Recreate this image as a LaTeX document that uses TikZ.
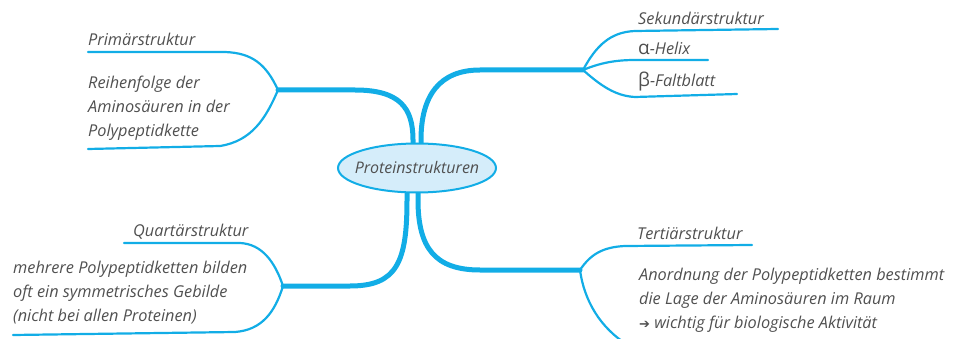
\documentclass[tikz,border=0pt]{standalone}
\usepackage{fontspec}
\setmainfont{Open Sans}
\newfontfamily\arrowfont{DejaVu Sans}
\usetikzlibrary{shapes.geometric}
\definecolor{mmblue}{HTML}{12ADE6}
\definecolor{mmfill}{HTML}{D5EDFA}
\definecolor{mmtext}{HTML}{505050}
\tikzset{
  thickbr/.style={draw=mmblue, line width=5pt, line cap=round},
  thinbr/.style={draw=mmblue, line width=2.2pt, line cap=round},
  lbl/.style={font=\itshape\fontsize{16.3}{24}\selectfont, text=mmtext, inner sep=0pt, align=left},
  central/.style={ellipse, draw=mmblue, line width=2pt, fill=mmfill, minimum width=158pt, minimum height=49pt, inner sep=0pt, font=\itshape\fontsize{16}{18}\selectfont, text=mmtext}
}
\newcommand{\grk}[1]{{\upshape\fontsize{19}{24}\selectfont #1}}
\begin{document}
\begin{tikzpicture}[x=1pt,y=-1pt]
\useasboundingbox (0,0) rectangle (963,339);
\begin{scope}
\clip (0,0) rectangle (963,339);
% junction coordinates
\coordinate (jTL) at (278,90);
\coordinate (jTR) at (583,70);
\coordinate (jBL) at (283,286);
\coordinate (jBR) at (580,270);
\coordinate (sTL) at (413,150);
\coordinate (sTR) at (421,150);
\coordinate (sBL) at (407,186);
\coordinate (sBR) at (418,186);
% thick branches
\draw[thickbr] (sTL) -- (413,140) .. controls (413,108) and (400,90) .. (355,90) -- (jTL);
\draw[thickbr] (sTR) -- (421,140) .. controls (421,95) and (440,70) .. (480,70) -- (jTR);
\draw[thickbr] (sBL) -- (407,200) .. controls (407,262) and (397,286) .. (350,286) -- (jBL);
\draw[thickbr] (sBR) -- (418,200) .. controls (418,248) and (435,270) .. (480,270) -- (jBR);
% end coordinates
\coordinate (ePrim) at (88,52);
\coordinate (eReih) at (88,149);
\coordinate (eSek) at (778,29);
\coordinate (eAlp) at (708,60);
\coordinate (eBet) at (737,94);
\coordinate (eQua) at (124,243);
\coordinate (eMeh) at (13,335);
\coordinate (eTer) at (752,245);
\coordinate (eAno) at (628,345);
% thin branches
\draw[thinbr] (jTL) .. controls (266,64) and (252,53) .. (225,52) -- (ePrim);
\draw[thinbr] (jTL) .. controls (266,118) and (252,141) .. (220,146) -- (eReih);
\draw[thinbr] (jTR) .. controls (596,46) and (610,32) .. (635,31) -- (eSek);
\draw[thinbr] (jTR) .. controls (600,63) and (615,60) .. (635,60) -- (eAlp);
\draw[thinbr] (jTR) .. controls (600,85) and (615,96) .. (635,97) -- (eBet);
\draw[thinbr] (jBL) .. controls (275,262) and (262,244) .. (240,243) -- (eQua);
\draw[thinbr] (jBL) .. controls (275,312) and (262,330) .. (235,332) -- (eMeh);
\draw[thinbr] (jBR) .. controls (590,255) and (602,247) .. (625,246) -- (eTer);
\draw[thinbr] (jBR) .. controls (584,300) and (600,328) .. (eAno);
\end{scope}
% central node
\node[central] (root) at (417,168) {\makebox[0pt]{Proteinstrukturen}};
% labels
\node[lbl, anchor=west] (prim) at (88,39) {Primärstruktur};
\node[lbl, anchor=west] (reih) at (88,108) {Reihenfolge der\\Aminosäuren in der\\Polypeptidkette};
\node[lbl, anchor=west] (sek) at (638,18) {Sekundärstruktur};
\node[lbl, anchor=west] (alp) at (638,48) {\grk{α}-Helix};
\node[lbl, anchor=west] (bet) at (638,82) {\grk{β}-Faltblatt};
\node[lbl, anchor=west] (qua) at (133,232) {Quartärstruktur};
\node[lbl, anchor=west] (meh) at (13,293) {mehrere Polypeptidketten bilden\\oft ein symmetrisches Gebilde\\(nicht bei allen Proteinen)};
\node[lbl, anchor=west] (ter) at (637,233) {Tertiärstruktur};
\node[lbl, anchor=west] (ano) at (639,300) {Anordnung der Polypeptidketten bestimmt\\die Lage der Aminosäuren im Raum\\{\upshape\arrowfont\fontsize{13}{24}\selectfont ➔} wichtig für biologische Aktivität};
\end{tikzpicture}
\end{document}
